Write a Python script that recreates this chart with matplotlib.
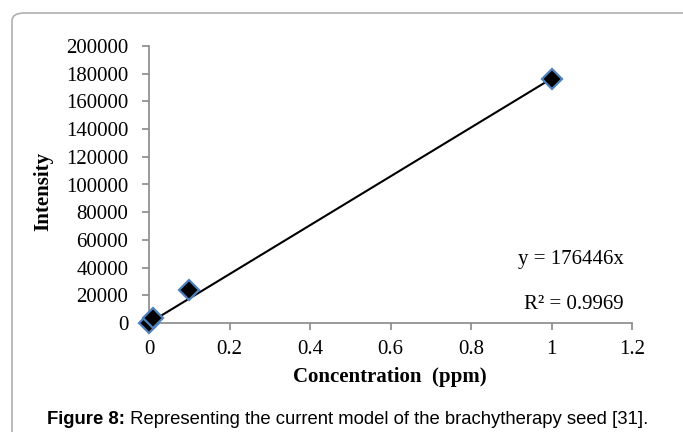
import matplotlib
matplotlib.use("Agg")
import matplotlib.pyplot as plt
from matplotlib.patches import FancyBboxPatch

conc = [0, 0.01, 0.1, 1.0]
intensity = [0, 3800, 24000, 176000]
slope = 176446
fit_x = [0, 1.0]
x_ticks = [0, 0.2, 0.4, 0.6, 0.8, 1.0, 1.2]
x_tick_labels = ["0", "0.2", "0.4", "0.6", "0.8", "1", "1.2"]
y_ticks = list(range(0, 200001, 20000))

W, H = 683, 432
serif = "Liberation Serif"
sans = "Liberation Sans"
fs = 15
fig = plt.figure(figsize=(W / 100, H / 100), dpi=100)

frame = FancyBboxPatch((12 / W, -0.1), 1.2, 1 - 13 / H + 0.1,
                       boxstyle="round,pad=0,rounding_size=0.018",
                       transform=fig.transFigure, fill=False,
                       edgecolor="#b0b0b0", linewidth=1.2)
fig.patches.append(frame)

ax = fig.add_axes([149 / W, 1 - 323 / H, (632 - 149) / W, (323 - 46) / H])
ax.plot(fit_x, [slope * v for v in fit_x], color="black", linewidth=1.5, zorder=2)
ax.plot(conc, intensity, linestyle="none", marker="D", markersize=10,
        markerfacecolor="black", markeredgecolor="#4f81bd", markeredgewidth=1.6,
        zorder=3, clip_on=False)

ax.set_xlim(0, 1.2)
ax.set_ylim(0, 200000)
ax.set_xticks(x_ticks)
ax.set_xticklabels(x_tick_labels)
ax.set_yticks(y_ticks)
ax.set_yticklabels([str(v) for v in y_ticks])
for s in ["top", "right"]:
    ax.spines[s].set_visible(False)
for s in ["left", "bottom"]:
    ax.spines[s].set_color("#898989")
    ax.spines[s].set_linewidth(1.2)
ax.tick_params(axis="both", direction="out", length=5, width=1.2, color="#898989",
               labelsize=fs)
ax.tick_params(axis="y", pad=10)
ax.tick_params(axis="x", pad=7)
for lab in ax.get_xticklabels() + ax.get_yticklabels():
    lab.set_fontfamily(serif)

fig.text(390 / W, 1 - 377 / H, "Concentration  (ppm)", fontfamily=serif,
         fontweight="bold", fontsize=fs, ha="center", va="center")
fig.text(43 / W, 1 - 191 / H, "Intensity", fontfamily=serif, fontweight="bold",
         fontsize=fs, rotation=90, ha="center", va="center")

ax.text(1.18, 46000, "y = 176446x", fontfamily=serif, fontsize=fs,
        ha="right", va="center")
ax.text(1.18, 13000, "R² = 0.9969", fontfamily=serif, fontsize=fs,
        ha="right", va="center")

# caption: fit between x=47 and x=652
cap_y = 1 - 419 / H
cfs = 12
t1 = fig.text(47 / W, cap_y, "Figure 8:", fontfamily=sans, fontweight="bold",
              fontsize=cfs, ha="left", va="center")
t2 = fig.text(0, cap_y, " Representing the current model of the brachytherapy seed [31].",
              fontfamily=sans, fontsize=cfs, ha="left", va="center")
fig.canvas.draw()
r = fig.canvas.get_renderer()
w_tot = t1.get_window_extent(r).width + t2.get_window_extent(r).width
cfs = cfs * (652 - 47) / w_tot
t1.set_fontsize(cfs)
t2.set_fontsize(cfs)
fig.canvas.draw()
bb = t1.get_window_extent(r)
t2.set_x(bb.x1 / W)

fig.savefig("out.png", dpi=100)
